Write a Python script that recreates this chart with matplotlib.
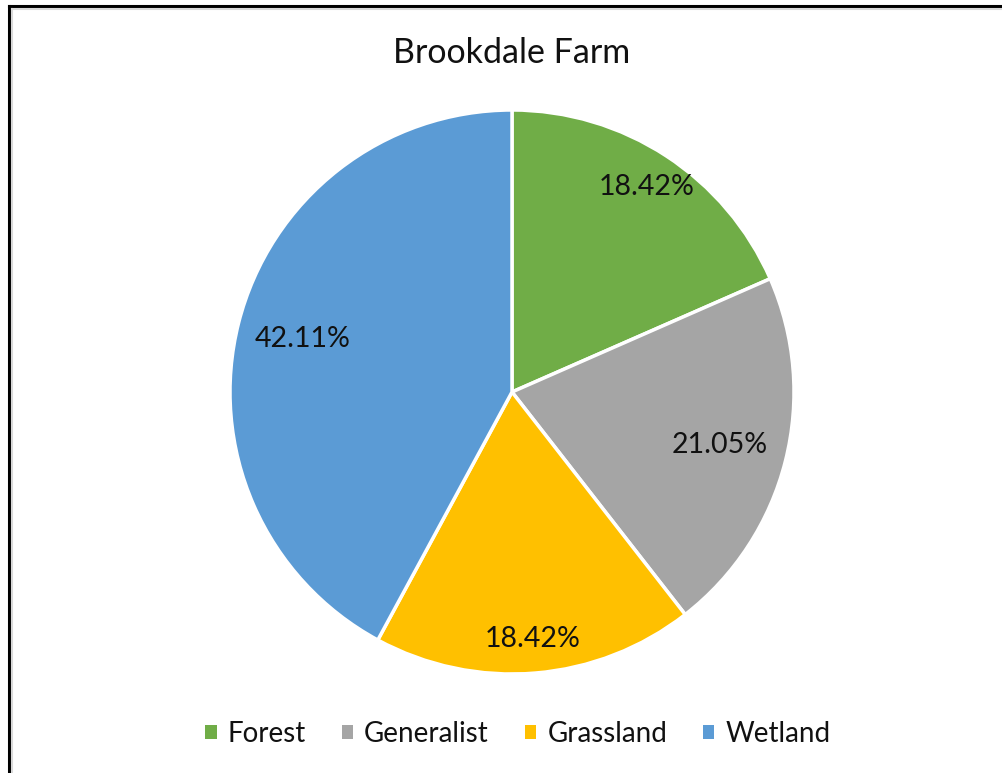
import matplotlib.pyplot as plt
from matplotlib.lines import Line2D
from matplotlib.patches import Patch
import numpy as np

categories = ["Forest", "Generalist", "Grassland", "Wetland"]
counts = [7, 8, 7, 16]
colors = ["#70AD47", "#A5A5A5", "#FFC000", "#5B9BD5"]
label_dist = [0.87, 0.76, 0.88, 0.765]

plt.rcParams["font.family"] = ["Lato", "DejaVu Sans"]

W, H = 1002, 773
fig = plt.figure(figsize=(W / 100, H / 100), dpi=100)

# border like the excel chart frame (top and left visible)
fig.add_artist(Line2D([9 / W, 9 / W], [0, 1 - 6 / H], color="black", lw=2.2, transform=fig.transFigure))
fig.add_artist(Line2D([9 / W, 1], [1 - 6 / H, 1 - 6 / H], color="black", lw=2.2, transform=fig.transFigure))
fig.add_artist(Line2D([11.5 / W, 11.5 / W], [0, 1 - 8.5 / H], color="#d9d9d9", lw=1.5, transform=fig.transFigure))
fig.add_artist(Line2D([11.5 / W, 1], [1 - 8.5 / H, 1 - 8.5 / H], color="#d9d9d9", lw=1.5, transform=fig.transFigure))

cx, cy, r = 512, 392, 282
ax = fig.add_axes([(cx - r) / W, (H - cy - r) / H, 2 * r / W, 2 * r / H])

wedges, texts, autotexts = ax.pie(
    counts,
    colors=colors,
    startangle=90,
    counterclock=False,
    autopct="%.2f%%",
    wedgeprops=dict(edgecolor="white", linewidth=2.5),
    textprops=dict(fontsize=20.5, color="#111111"),
)
for w, t, d in zip(wedges, autotexts, label_dist):
    ang = np.deg2rad((w.theta1 + w.theta2) / 2)
    t.set_position((d * np.cos(ang), d * np.sin(ang)))
ax.set_aspect("equal")
ax.set_xlim(-1, 1)
ax.set_ylim(-1, 1)

fig.text(512 / W, 1 - 53 / H, "Brookdale Farm", ha="center", va="center", fontsize=24.5, color="#111111")

handles = [Patch(facecolor=c, edgecolor="none") for c in colors]
fig.legend(
    handles, categories,
    loc="center", bbox_to_anchor=(518 / W, 1 - 734 / H),
    ncol=4, frameon=False, fontsize=20,
    handlelength=0.4, handleheight=0.4, handletextpad=0.4, columnspacing=1.3,
    labelcolor="#111111",
)

plt.savefig("out.png", dpi=100)
plt.close()
